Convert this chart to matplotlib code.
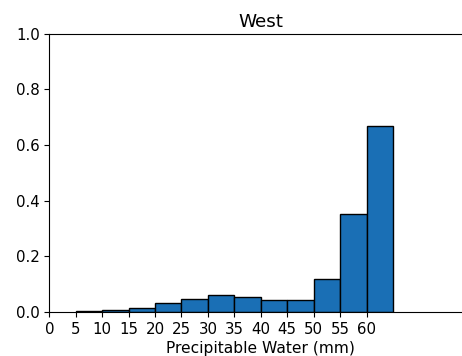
import numpy as np
from matplotlib import pyplot as plt

# Bin edges (mm) and fraction of events per bin
bin_edges = [5, 10, 15, 20, 25, 30, 35, 40, 45, 50, 55, 60, 65]
fractions = [0.003, 0.006, 0.016, 0.032, 0.048, 0.060, 0.055, 0.044, 0.044, 0.119, 0.352, 0.668]
xticks = list(range(0, 65, 5))


def main():
    fig = plt.figure(figsize=(4.62, 3.56), dpi=100)
    ax = fig.add_axes([0.1067, 0.1236, 0.9156, 0.782])

    left = np.array(bin_edges[:-1])
    widths = np.diff(bin_edges)
    ax.bar(left, fractions, width=widths, align='edge',
           color='#1a6fb5', edgecolor='black', linewidth=1)

    ax.set_xlim(0, 80)
    ax.set_ylim(0, 1.0)
    ax.set_xticks(xticks)
    ax.set_yticks(np.arange(0, 1.01, 0.2))
    ax.tick_params(labelsize=10.8)
    ax.set_xlabel('Precipitable Water (mm)', fontsize=11.2, labelpad=3)
    ax.set_title('West', fontsize=13.2, pad=5)

    fig.savefig('out.png', dpi=100)


if __name__ == '__main__':
    main()
